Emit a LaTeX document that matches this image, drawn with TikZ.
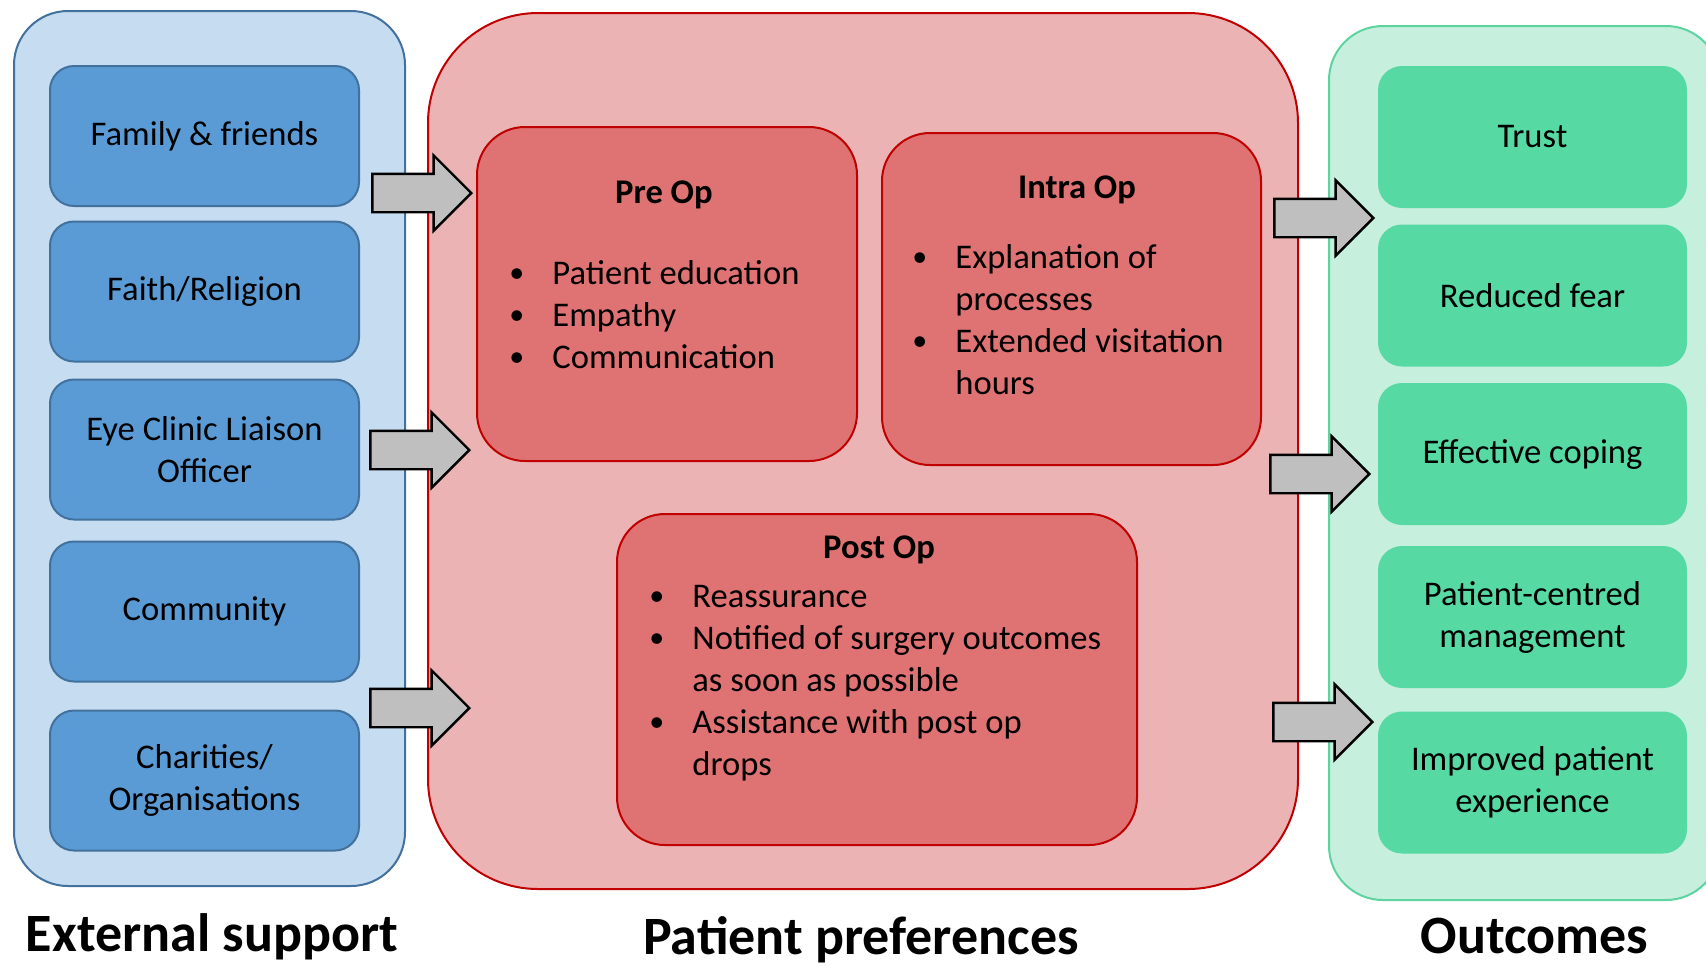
\documentclass[tikz,border=0pt]{standalone}
\usepackage{fontspec}
\setmainfont{Carlito}
\usetikzlibrary{shapes.arrows}
\definecolor{extfill}{HTML}{C6DCF0}
\definecolor{extline}{HTML}{41719C}
\definecolor{extbox}{HTML}{5B9BD5}
\definecolor{preffill}{HTML}{EBB3B3}
\definecolor{prefbox}{HTML}{DF7272}
\definecolor{prefline}{HTML}{C00000}
\definecolor{outfill}{HTML}{C6F0DD}
\definecolor{outline}{HTML}{5DD3A0}
\definecolor{outbox}{HTML}{57D9A3}
\definecolor{arrowgrey}{HTML}{BFBFBF}
\newcommand{\blt}{\makebox[21.5pt][l]{\raisebox{0.6pt}{\fontsize{15}{21}\selectfont\textbullet}}}
\begin{document}
\begin{tikzpicture}[x=0.5pt,y=-0.5pt,
  txt/.style={font=\fontsize{17.3}{21}\selectfont},
  panel/.style={line width=1pt, minimum width=195.5pt, minimum height=437.5pt, rounded corners=27pt},
  smallbox/.style={txt, align=center, minimum width=154.5pt, minimum height=70pt, rounded corners=12pt},
  extbox/.style={smallbox, draw=extline, fill=extbox, line width=1pt},
  outbox/.style={smallbox, fill=outbox, minimum height=71pt},
  opbox/.style={draw=prefline, fill=prefbox, line width=1pt, rounded corners=24pt, minimum height=166pt},
  ophead/.style={txt, font=\fontsize{17.3}{21}\selectfont\bfseries, inner sep=0pt},
  oplist/.style={txt, inner sep=0pt, anchor=base west},
  fatarrow/.style={single arrow, draw=black, fill=arrowgrey, line width=1.2pt, inner xsep=0pt, inner ysep=9pt,
    minimum height=49.5pt, single arrow head extend=9.25pt, single arrow head indent=0pt, anchor=tip},
  bigtitle/.style={font=\fontsize{27}{32}\selectfont\bfseries, inner sep=0pt}]
\useasboundingbox (0,0) rectangle (1706,966);
\clip (0,0) rectangle (1706,966);

\node[panel, draw=extline, fill=extfill] (ext) at (209.5,448.5) {};
\node[panel, draw=prefline, fill=preffill, minimum width=435pt, minimum height=438pt, rounded corners=55pt] (pref) at (863,451) {};
\node[panel, draw=outline, fill=outfill, minimum height=437pt] (out) at (1524.5,463) {};

\node[extbox] (family) at (204.5,136) {Family \& friends};
\node[extbox] (faith) at (204.5,291.5) {Faith/Religion};
\node[extbox] (eclo) at (204.5,449.5) {Eye Clinic Liaison\\Officer};
\node[extbox] (community) at (204.5,611.5) {Community};
\node[extbox] (charities) at (204.5,780.5) {Charities/\\Organisations};

\node[opbox, minimum width=190pt, minimum height=167pt] (preop) at (667,294) {};
\node[opbox, minimum width=189.5pt] (intraop) at (1071.5,299) {};
\node[opbox, minimum width=260pt, minimum height=165.5pt] (postop) at (877,679.5) {};

\node[ophead] (prehead) at (664,195) {Pre Op};
\node[oplist] (prelist) at (509,284) {\begin{tabular}[t]{@{}l@{}l@{}}
\blt & Patient education\\
\blt & Empathy\\
\blt & Communication
\end{tabular}};
\node[ophead] (intrahead) at (1077,190) {Intra Op};
\node[oplist] (intralist) at (912,268) {\begin{tabular}[t]{@{}l@{}l@{}}
\blt & Explanation of\\
 & processes\\
\blt & Extended visitation\\
 & hours
\end{tabular}};
\node[ophead] (posthead) at (879,550) {Post Op};
\node[oplist] (postlist) at (649,607) {\begin{tabular}[t]{@{}l@{}l@{}}
\blt & Reassurance\\
\blt & Notified of surgery outcomes\\
 & as soon as possible\\
\blt & Assistance with post op\\
 & drops
\end{tabular}};

\node[outbox] (trust) at (1532.5,137) {Trust};
\node[outbox] (fear) at (1532.5,295.5) {Reduced fear};
\node[outbox] (coping) at (1532.5,454) {Effective coping};
\node[outbox] (pcm) at (1532.5,617) {Patient-centred\\management};
\node[outbox] (experience) at (1532.5,782.5) {Improved patient\\experience};

\node[fatarrow] (in1) at (473,193) {};
\node[fatarrow] (in2) at (471,450) {};
\node[fatarrow] (in3) at (471,708) {};
\node[fatarrow] (res1) at (1375,218) {};
\node[fatarrow] (res2) at (1371,474) {};
\node[fatarrow] (res3) at (1374,722) {};

\node[bigtitle] (exttitle) at (212,937) {External support};
\node[bigtitle] (preftitle) at (861,940) {Patient preferences};
\node[bigtitle] (outtitle) at (1534.5,936) {Outcomes};
\end{tikzpicture}
\end{document}
